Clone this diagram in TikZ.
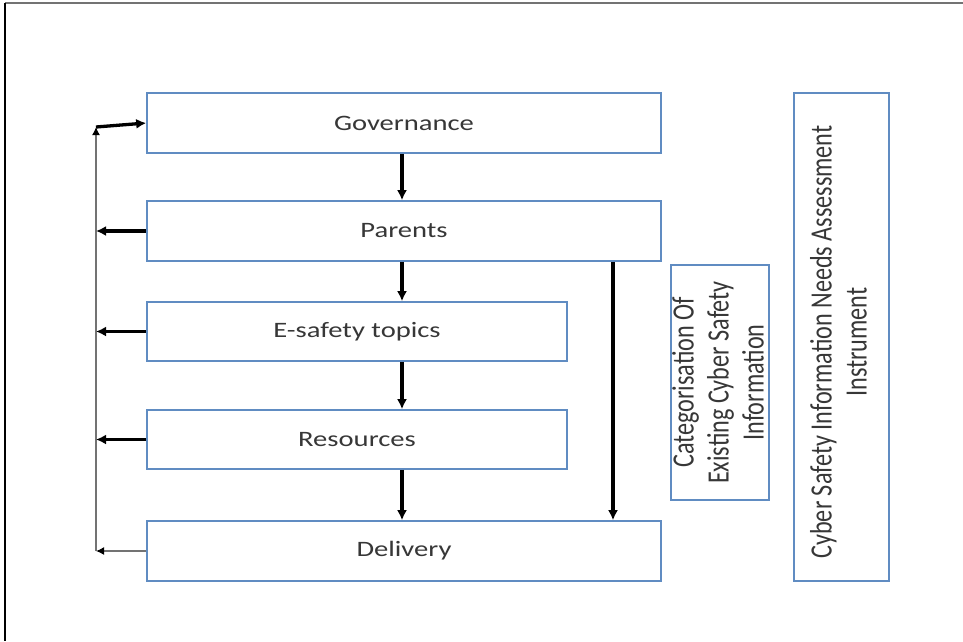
\documentclass[tikz,border=0pt]{standalone}
\usepackage{fontspec}
\usetikzlibrary{arrows.meta,calc}
\newfontfamily\hfont[FakeStretch=1.3]{Carlito}
\newfontfamily\vfont[FakeStretch=0.78]{Carlito}
\definecolor{boxblue}{RGB}{96,140,194}
\definecolor{txtgray}{RGB}{55,55,55}
\begin{document}
\begin{tikzpicture}[x=1pt,y=-1pt,
  box/.style={draw=boxblue, line width=1.6pt, fill=white, inner sep=0pt, text=txtgray,
     font=\hfont\fontsize{22}{26}\selectfont},
  vtext/.style={rotate=90, inner sep=0pt, align=center, text=txtgray,
     font=\vfont\fontsize{31}{35}\selectfont},
  thick arrow/.style={draw=black, line width=3.3pt, -{Latex[length=10pt,width=10pt]}},
  thin arrow/.style={draw=black!55, line width=1.4pt, -{Latex[length=8pt,width=8pt,color=black]}}
]
\useasboundingbox (0,0) rectangle (963,641);
% frame
\draw[black!55, line width=1.6pt] (5,3) -- (963,3);
\draw[black, line width=1.6pt] (5,3) -- (5,641);

% main boxes
\node[box, minimum width=514pt, minimum height=60pt] (gov) at (404,123) {Governance};
\node[box, minimum width=514pt, minimum height=60pt] (par) at (404,231) {Parents};
\node[box, minimum width=420pt, minimum height=59pt] (esa) at (357,331.5) {E-safety topics};
\node[box, minimum width=420pt, minimum height=59pt] (res) at (357,439.5) {Resources};
\node[box, minimum width=514pt, minimum height=60pt] (del) at (404,551) {Delivery};

% side boxes
\node[box, minimum width=98pt, minimum height=235pt] (cat) at (720,382.5) {};
\node[vtext] (cattext) at ([xshift=-2pt]cat.center) {Categorisation Of\\Existing Cyber Safety\\Information};
\node[box, minimum width=95pt, minimum height=488pt] (csi) at (841.5,337) {};
\node[vtext] (csitext) at ([xshift=-3pt,yshift=-5pt]csi.center) {Cyber Safety Information Needs Assessment\\Instrument};

% down arrows
\draw[thick arrow] ([xshift=-2pt]gov.south) -- ([xshift=-2pt]gov.south |- par.north);
\draw[thick arrow] ([xshift=-2pt]par.south) -- ([xshift=-2pt]par.south |- esa.north);
\draw[thick arrow] ([xshift=-2pt]par.south |- esa.south) -- ([xshift=-2pt]par.south |- res.north);
\draw[thick arrow] ([xshift=-2pt]par.south |- res.south) -- ([xshift=-2pt]par.south |- del.north);
\draw[thick arrow] ([xshift=209pt]par.south) -- ([xshift=209pt]par.south |- del.north);

% feedback spine
\coordinate (sptop) at (96,127);
\coordinate (spbot) at (96,551);
\draw[thin arrow] (spbot) -- (sptop);
\draw[thick arrow] (sptop) -- (gov.west);
\draw[thick arrow] (par.west) -- (par.west -| sptop);
\draw[thick arrow] (esa.west) -- (esa.west -| sptop);
\draw[thick arrow] (res.west) -- (res.west -| sptop);
\draw[thin arrow] (del.west) -- (spbot);
\end{tikzpicture}
\end{document}
